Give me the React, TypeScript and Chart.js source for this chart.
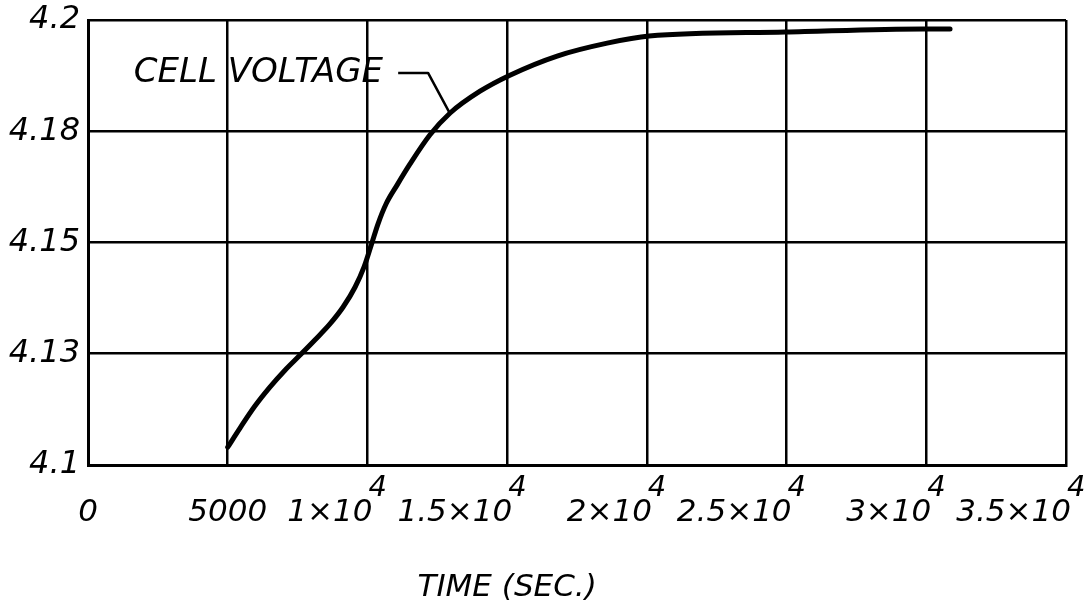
import React, { useEffect, useRef } from "react";
import { Chart, registerables } from "chart.js";

Chart.register(...registerables);

// ---- data ----
const timeSec = [5000, 5440, 5980, 6510, 7050, 7590, 8120, 8660, 9130, 9560, 9880, 10160, 10380, 10670, 11060, 11520, 12240, 12960, 14030, 15100, 16790, 18580, 20080, 24950, 29890, 30850];
const cellVoltage = [4.104, 4.1083, 4.1133, 4.1175, 4.1213, 4.1247, 4.1281, 4.1317, 4.1355, 4.14, 4.1445, 4.1499, 4.1542, 4.1587, 4.1629, 4.1676, 4.1742, 4.1791, 4.184, 4.1876, 4.1919, 4.1948, 4.1964, 4.1973, 4.198, 4.198];

const xTickValues = [0, 5000, 10000, 15000, 20000, 25000, 30000, 35000];
const xTickBase = ["0", "5000", "1×10", "1.5×10", "2×10", "2.5×10", "3×10", "3.5×10"];
const xTickExp = ["", "", "4", "4", "4", "4", "4", "4"];
const yTickLabels = ["4.1", "4.13", "4.15", "4.18", "4.2"];
const axisTitle = "TIME (SEC.)";
const seriesLabel = "CELL VOLTAGE";
// annotation anchor (data coords): label end, leader bend, leader tip on curve
const labelAnchor = { x: 10560, y: 4.1881 };
const leaderPoints = [
  { x: 11100, y: 4.1881 },
  { x: 12170, y: 4.1881 },
  { x: 12960, y: 4.1789 },
];

const FONT = '"DejaVu Sans", sans-serif';

const overlayPlugin = {
  id: "overlay",
  afterDraw(chart: any) {
    const ctx = chart.ctx;
    const xs = chart.scales.x;
    const ys = chart.scales.y;
    const bottom = chart.chartArea.bottom;
    ctx.save();
    ctx.fillStyle = "#000";
    ctx.strokeStyle = "#000";
    ctx.textBaseline = "middle";
    // x tick labels with superscript exponents
    xTickValues.forEach((v, i) => {
      const px = xs.getPixelForValue(v);
      ctx.font = `italic 31px ${FONT}`;
      if (xTickExp[i]) {
        ctx.textAlign = "right";
        ctx.fillText(xTickBase[i], px + 5, bottom + 48);
        ctx.font = `italic 29px ${FONT}`;
        ctx.textAlign = "left";
        ctx.fillText(xTickExp[i], px + 1, bottom + 23);
      } else {
        ctx.textAlign = "center";
        ctx.fillText(xTickBase[i], px, bottom + 48);
      }
    });
    // axis title
    ctx.font = `italic 31px ${FONT}`;
    ctx.textAlign = "center";
    ctx.fillText(axisTitle, xs.getPixelForValue(15000), bottom + 123);
    // series annotation
    ctx.font = `italic 34px ${FONT}`;
    ctx.textAlign = "right";
    ctx.fillText(seriesLabel, xs.getPixelForValue(labelAnchor.x), ys.getPixelForValue(labelAnchor.y));
    ctx.lineWidth = 2.5;
    ctx.lineJoin = "round";
    ctx.beginPath();
    leaderPoints.forEach((p, i) => {
      const px = xs.getPixelForValue(p.x);
      const py = ys.getPixelForValue(p.y);
      if (i === 0) ctx.moveTo(px, py);
      else ctx.lineTo(px, py);
    });
    ctx.stroke();
    ctx.restore();
  },
};

export default function App() {
  const canvasRef = useRef<HTMLCanvasElement | null>(null);

  useEffect(() => {
    document.body.style.margin = "0";
    const canvas = canvasRef.current;
    if (!canvas) return;
    const chart = new Chart(canvas, {
      type: "line",
      data: {
        datasets: [
          {
            label: seriesLabel,
            data: timeSec.map((t, i) => ({ x: t, y: cellVoltage[i] })),
            borderColor: "#000",
            borderWidth: 5,
            borderCapStyle: "round",
            borderJoinStyle: "round",
            pointRadius: 0,
            fill: false,
            cubicInterpolationMode: "monotone",
          },
        ],
      },
      options: {
        animation: false,
        responsive: false,
        layout: { padding: { top: 20, right: 24, left: 0, bottom: 0 } },
        plugins: {
          legend: { display: false },
          tooltip: { enabled: false },
        },
        scales: {
          x: {
            type: "linear",
            min: 0,
            max: 35000,
            ticks: { display: false, stepSize: 5000 },
            grid: { color: "#000", lineWidth: 2.5, drawTicks: false },
            border: { color: "#000", width: 3 },
            afterFit: (scale: any) => {
              scale.height = 142;
              scale.paddingLeft = 0;
              scale.paddingRight = 0;
            },
          },
          y: {
            type: "linear",
            min: 4.1,
            max: 4.2,
            ticks: {
              stepSize: 0.025,
              color: "#000",
              padding: 8,
              font: { family: FONT, size: 32, style: "italic" },
              callback: (value: any) => yTickLabels[Math.round((Number(value) - 4.1) / 0.025)] ?? "",
            },
            grid: { color: "#000", lineWidth: 2.5, drawTicks: false },
            border: { color: "#000", width: 3 },
            afterFit: (scale: any) => {
              scale.width = 88;
              scale.paddingTop = 0;
              scale.paddingBottom = 0;
            },
          },
        },
      },
      plugins: [overlayPlugin],
    });
    return () => chart.destroy();
  }, []);

  return (
    <div style={{ position: "absolute", left: 0, top: 0, width: 1090, height: 607, background: "#fff" }}>
      <canvas ref={canvasRef} width={1090} height={607} />
    </div>
  );
}
